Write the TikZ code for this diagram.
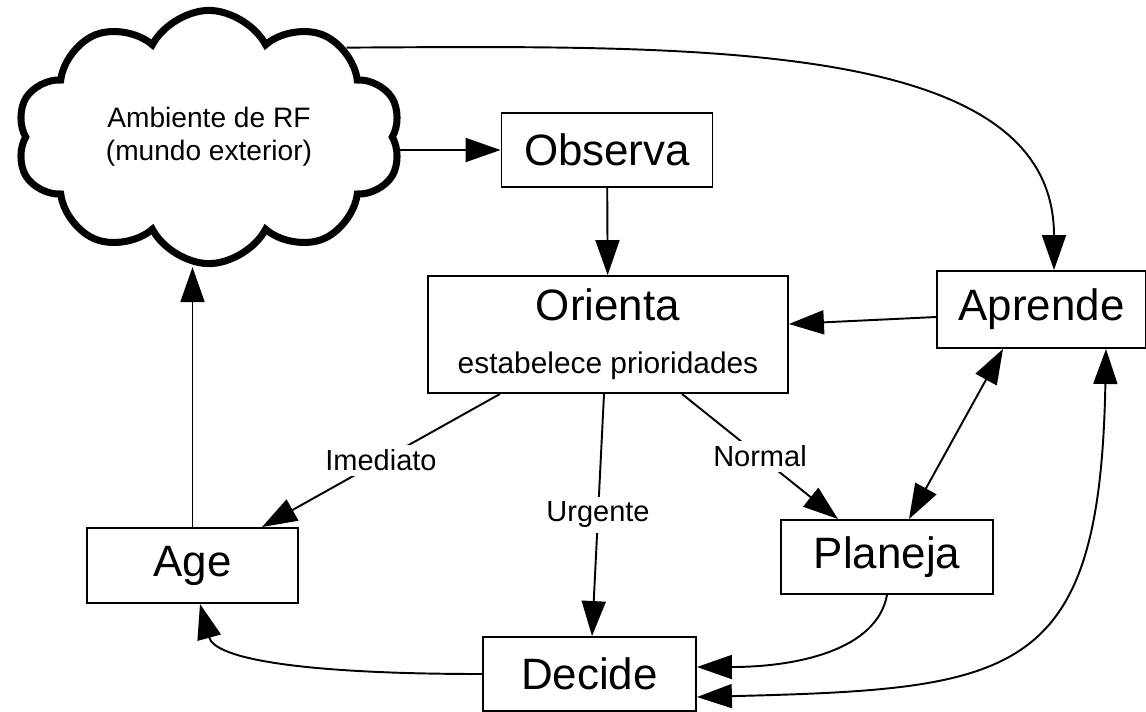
\documentclass[tikz,border=0pt]{standalone}
\usepackage{fontspec}
\setmainfont{Liberation Sans}
\usepackage{tikz}
\usetikzlibrary{shapes.symbols, arrows.meta, positioning, calc}
\tikzstyle{block} = [
    rectangle,
    draw=black,
    line width=1.1pt,
    minimum width=4.22cm,
    minimum height=1.48cm,
    inner sep=0pt,
    text centered,
    font=\fontsize{25}{30}\selectfont
]
\tikzstyle{world} = [
    cloud,
    cloud puffs=10,
    cloud puff arc=125,
    aspect=1.5,
    draw=black,
    line width=4pt,
    minimum width=7.7cm,
    minimum height=4.86cm,
    align=center,
    font=\fontsize{16}{19}\selectfont
]
\tikzstyle{arrow} = [
    line width=1.1pt,
    ->,
    >={Triangle[length=7mm, width=4.8mm]}
]
\tikzstyle{lbl} = [
    fill=white,
    inner sep=3pt,
    font=\fontsize{16.5}{19}\selectfont
]

\begin{document}
\begin{tikzpicture}[x=0.02cm, y=-0.02cm]
        \useasboundingbox (0,0) rectangle (1146,711);
        % States
        \node[world] (world) at (209,137) {Ambiente de RF\\(mundo exterior)};
        \node[block] (observa) at (607,150) {Observa};
        \node[block, minimum width=7.2cm, minimum height=2.34cm, align=center] (orienta) at (608,334.5) {Orienta\\{\fontsize{17}{20}\selectfont estabelece prioridades}};
        \node[block, minimum width=4.18cm, minimum height=1.54cm] (aprende) at (1041.5,309.5) {Aprende};
        \node[block, minimum width=4.24cm] (planeja) at (887,557) {Planeja};
        \node[block, minimum height=1.5cm] (age) at (192.5,565.5) {Age};
        \node[block, minimum width=4.26cm] (decide) at (589.5,674) {Decide};
        
        % Arrows
        \draw[arrow] (world.east |- observa.west) -- (observa.west);
        \draw[arrow] (observa) -- (orienta);
        \draw[arrow] ($(aprende.west)+(0,7.5)$) -- ($(orienta.east)+(0,-10.5)$);
        \draw[arrow] (world.33) .. controls +(353,-2) and +(0,-231) .. ($(aprende.north)+(12.5,0)$);
        \draw[arrow] ($(orienta.south)+(-108,0)$) -- node[lbl]{Imediato} ($(age.north)+(69.5,0)$);
        \draw[arrow] ($(orienta.south)+(-4,0)$) -- node[lbl]{Urgente} ($(decide.north)+(2.5,0)$);
        \draw[arrow] ($(orienta.south)+(74,0)$) -- node[lbl]{Normal} ($(planeja.north)+(-49,0)$);
        \draw[arrow, <->] ($(aprende.south)+(-38.5,0)$) -- ($(planeja.north)+(22,0)$);
        \draw[arrow] (planeja.south) .. controls +(-10,55) and +(100,0) .. ($(decide.east)+(0,-7)$);
        \draw[arrow, <->] ($(decide.east)+(0,23)$) .. controls +(320,-8) and +(-6,330) .. ($(aprende.south)+(64.5,0)$);
        \draw[arrow] (decide.west) .. controls +(-180,0) and +(15,55) .. ($(age.south)+(7.5,0)$);
        \draw[arrow] (age.north) -- (age.north |- world.south);
    \end{tikzpicture}
\end{document}
